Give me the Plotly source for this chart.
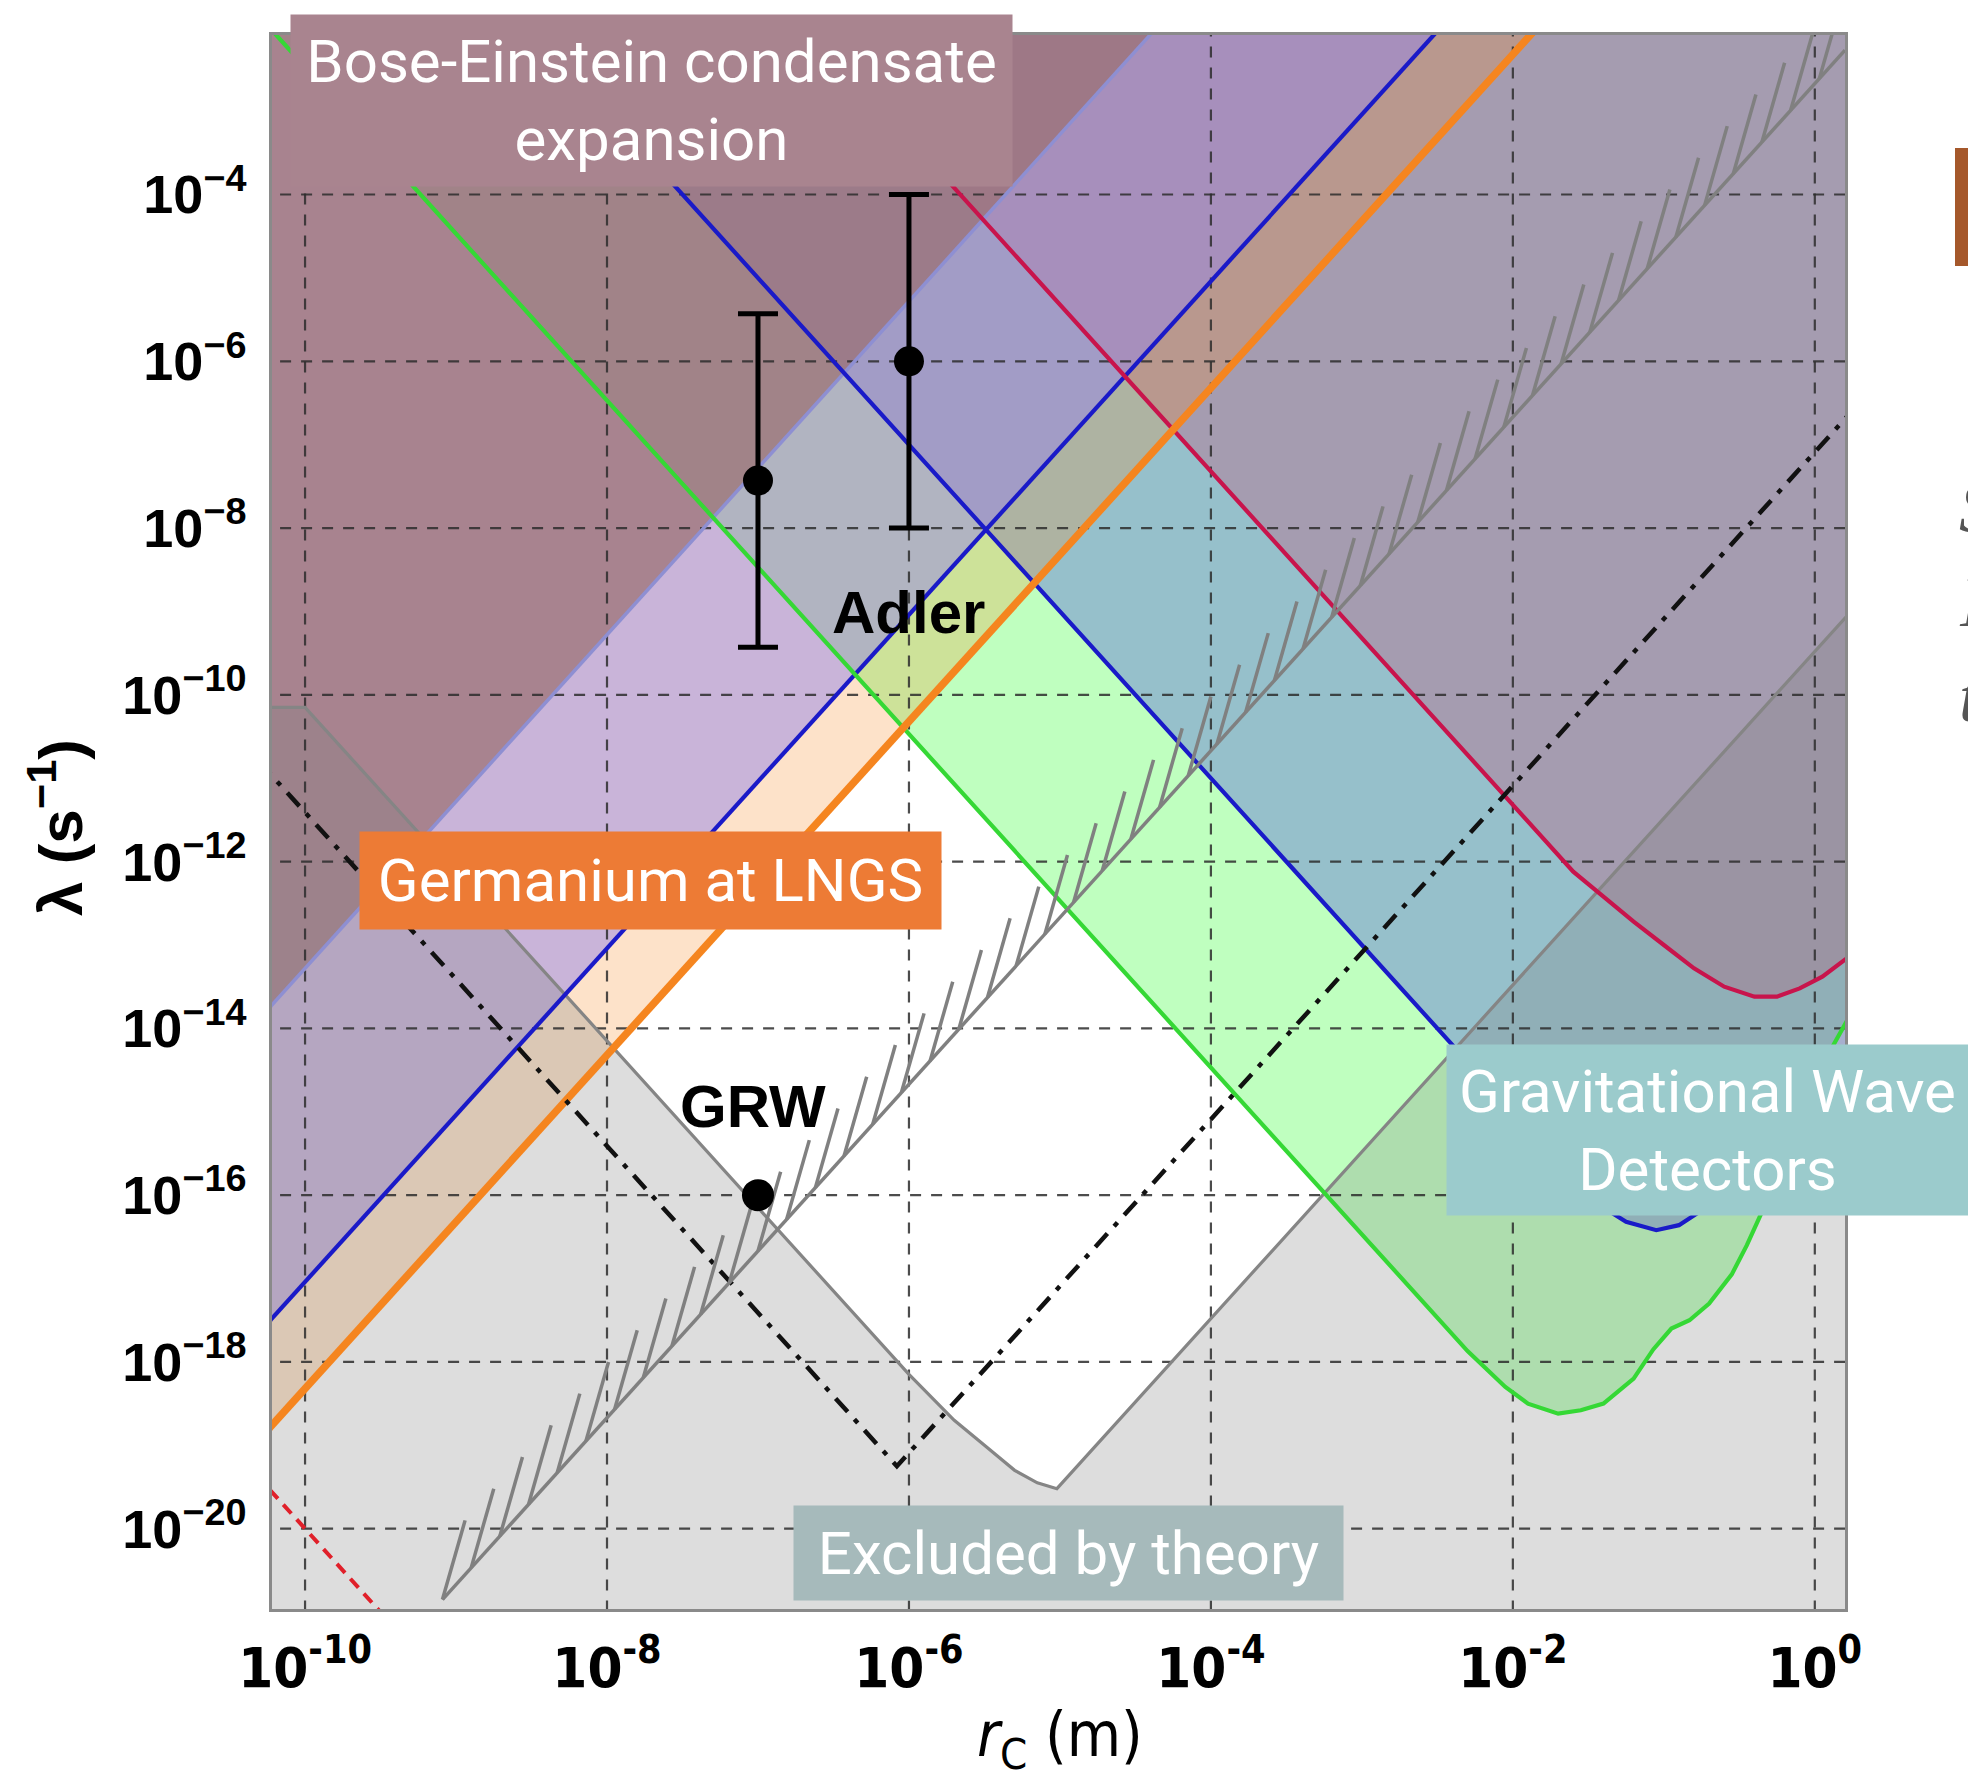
import numpy as np
import plotly.graph_objects as go

# ---------------- data (log10 exponents) ----------------
# x: log10(r_C / m), y: log10(lambda / s^-1)
GERM_LOG_RC = [-10.5, -1.5]
GERM_LOG_LAM = [-19.32, -1.32]

XRAY_LOG_RC = [-10.5, -2.0]
XRAY_LOG_LAM = [-18.04, -1.04]

BEC_LOG_RC = [-10.5, -4.0]
BEC_LOG_LAM = [-14.28, -1.28]

GW_GREEN_LOG_RC = [-10.5, -2.3, -2.05, -1.9, -1.7, -1.55, -1.4, -1.2, -1.07, -0.95, -0.83,
                   -0.7, -0.55, -0.45, -0.35, -0.2, 0.0, 0.2, 0.4]
GW_GREEN_LOG_LAM = [-1.47, -17.87, -18.3, -18.5, -18.62, -18.58, -18.5, -18.2, -17.85, -17.6, -17.5,
                    -17.3, -16.95, -16.6, -16.2, -15.5, -14.6, -13.95, -13.3]

GW_BLUE_LOG_RC = [-8.6, -2.1, -1.9, -1.6, -1.4, -1.25, -1.05, -0.9, -0.78, -0.65, -0.5, -0.3, 0.0, 0.4]
GW_BLUE_LOG_LAM = [-1.8, -14.8, -15.2, -15.85, -16.15, -16.32, -16.42, -16.36, -16.22, -15.95, -15.5,
                   -15.0, -14.5, -14.0]

RED_LOG_RC = [-7.0, -1.6, -1.4, -1.2, -1.0, -0.8, -0.6, -0.4, -0.25, -0.1, 0.05, 0.2, 0.4]
RED_LOG_LAM = [-1.32, -12.12, -12.42, -12.72, -13.0, -13.28, -13.5, -13.62, -13.62, -13.52, -13.38,
               -13.18, -12.9]

THEORY_LOG_RC = [-10.5, -10.0, -6.0, -5.7, -5.5, -5.3, -5.15, -5.02, 0.4]
THEORY_LOG_LAM = [-10.15, -10.15, -18.15, -18.7, -19.0, -19.3, -19.45, -19.52, -8.68]

DASHDOT_LOG_RC = [-10.5, -6.08, 0.4]
DASHDOT_LOG_LAM = [-10.41, -19.25, -6.29]

REDDASH_LOG_RC = [-10.5, -9.4]
REDDASH_LOG_LAM = [-19.0, -21.2]

HATCH_LOG_RC = [-9.09, 0.2]
HATCH_LOG_LAM = [-20.85, -2.27]

ADLER_LOG_RC = [-7.0, -6.0]
ADLER_LOG_LAM = [-7.43, -6.0]
ADLER_LOG_UP = [-5.43, -4.0]
ADLER_LOG_DOWN = [-9.43, -8.0]

GRW_LOG_RC = [-7.0]
GRW_LOG_LAM = [-16.0]

X_TICK_EXP = [-10, -8, -6, -4, -2, 0]
X_TICK_TEXT = ["10<sup>-10</sup>", "10<sup>-8</sup>", "10<sup>-6</sup>", "10<sup>-4</sup>",
               "10<sup>-2</sup>", "10<sup>0</sup>"]
Y_TICK_EXP = [-4, -6, -8, -10, -12, -14, -16, -18, -20]
Y_TICK_TEXT = ["10<sup>\u22124</sup>", "10<sup>\u22126</sup>", "10<sup>\u22128</sup>",
               "10<sup>\u221210</sup>", "10<sup>\u221212</sup>", "10<sup>\u221214</sup>",
               "10<sup>\u221216</sup>", "10<sup>\u221218</sup>", "10<sup>\u221220</sup>"]

# ---------------- helpers ----------------
TOP = -1.0
BOT = -22.0


def p10(a):
    return list(10.0 ** np.array(a, dtype=float))


def above(lx, ly):
    xs = list(lx) + [lx[-1], lx[0]]
    ys = list(ly) + [TOP, TOP]
    return p10(xs), p10(ys)


def below(lx, ly):
    xs = list(lx) + [lx[-1], lx[0]]
    ys = list(ly) + [BOT, BOT]
    return p10(xs), p10(ys)


fig = go.Figure()


def add_fill(xy, color):
    fig.add_trace(go.Scatter(x=xy[0], y=xy[1], mode="lines", fill="toself", fillcolor=color,
                             line=dict(width=0), hoverinfo="skip", showlegend=False))


def add_line(lx, ly, color, width, dash="solid"):
    fig.add_trace(go.Scatter(x=p10(lx), y=p10(ly), mode="lines",
                             line=dict(color=color, width=width, dash=dash),
                             hoverinfo="skip", showlegend=False))


# fills (layer order matters for colour mixing)
add_fill(above(GW_GREEN_LOG_RC, GW_GREEN_LOG_LAM), "rgba(120,255,120,0.47)")
add_fill(above(GW_BLUE_LOG_RC, GW_BLUE_LOG_LAM), "rgba(110,130,215,0.5)")
add_fill(above(RED_LOG_RC, RED_LOG_LAM), "rgba(180,120,150,0.5)")
add_fill(above(GERM_LOG_RC, GERM_LOG_LAM), "rgba(248,140,40,0.25)")
add_fill(above(XRAY_LOG_RC, XRAY_LOG_LAM), "rgba(149,133,233,0.5)")
add_fill(above(BEC_LOG_RC, BEC_LOG_LAM), "rgba(154,110,111,0.7)")
add_fill(below(THEORY_LOG_RC, THEORY_LOG_LAM), "rgba(128,128,128,0.27)")

# dashed grid on top of the fills
gx, gy = [], []
for e in X_TICK_EXP:
    gx += [10.0 ** e, 10.0 ** e, None]
    gy += [10.0 ** BOT, 10.0 ** TOP, None]
for e in Y_TICK_EXP:
    gx += [10.0 ** -11, 10.0 ** 1, None]
    gy += [10.0 ** e, 10.0 ** e, None]
fig.add_trace(go.Scatter(x=gx, y=gy, mode="lines",
                         line=dict(color="rgba(45,45,45,0.85)", width=2.2, dash="11px,10px"),
                         hoverinfo="skip", showlegend=False))

# boundary lines
add_line(THEORY_LOG_RC, THEORY_LOG_LAM, "#858585", 3.2)
add_line(BEC_LOG_RC, BEC_LOG_LAM, "#8e8fd2", 3.5)
add_line(XRAY_LOG_RC, XRAY_LOG_LAM, "#1a1ac8", 4.2)
add_line(GW_BLUE_LOG_RC, GW_BLUE_LOG_LAM, "#1a1ac8", 4.2)
add_line(GW_GREEN_LOG_RC, GW_GREEN_LOG_LAM, "#35d835", 4.2)
add_line(RED_LOG_RC, RED_LOG_LAM, "#c8144c", 4.2)
add_line(GERM_LOG_RC, GERM_LOG_LAM, "#f5851f", 7.5)
add_line(DASHDOT_LOG_RC, DASHDOT_LOG_LAM, "#111111", 4.5, "18px,10px,5px,10px")
add_line(REDDASH_LOG_RC, REDDASH_LOG_LAM, "#e0202a", 4, "12px,8px")

# hatched theory line
add_line(HATCH_LOG_RC, HATCH_LOG_LAM, "#808080", 3.5)
slope = (HATCH_LOG_LAM[1] - HATCH_LOG_LAM[0]) / (HATCH_LOG_RC[1] - HATCH_LOG_RC[0])
hx, hy = [], []
step, hdx, hdy = 0.19, 0.15, 0.95
xv = HATCH_LOG_RC[0]
while xv <= HATCH_LOG_RC[1]:
    yv = HATCH_LOG_LAM[0] + slope * (xv - HATCH_LOG_RC[0])
    hx += [10.0 ** xv, 10.0 ** (xv + hdx), None]
    hy += [10.0 ** yv, 10.0 ** (yv + hdy), None]
    xv += step
fig.add_trace(go.Scatter(x=hx, y=hy, mode="lines", line=dict(color="#808080", width=3.5),
                         hoverinfo="skip", showlegend=False))

# Adler points with error bars
ad_x = p10(ADLER_LOG_RC)
ad_y = p10(ADLER_LOG_LAM)
ad_up = [u - y for u, y in zip(p10(ADLER_LOG_UP), ad_y)]
ad_dn = [y - d for d, y in zip(p10(ADLER_LOG_DOWN), ad_y)]
fig.add_trace(go.Scatter(x=ad_x, y=ad_y, mode="markers",
                         marker=dict(color="black", size=30),
                         error_y=dict(type="data", symmetric=False, array=ad_up, arrayminus=ad_dn,
                                      color="black", thickness=5, width=20),
                         hoverinfo="skip", showlegend=False))
fig.add_trace(go.Scatter(x=p10(GRW_LOG_RC), y=p10(GRW_LOG_LAM), mode="markers",
                         marker=dict(color="black", size=32), hoverinfo="skip", showlegend=False))

# ---------------- layout ----------------
L, R, T, B = 272, 1845, 35, 1609
W, H = 1968, 1782


def px(xf):
    return (xf - L) / (R - L)


def py(yf):
    return (B - yf) / (B - T)


annotations = []
annotations.append(dict(x=-6.0, y=-9.01, xref="x", yref="y", text="<b>Adler</b>", showarrow=False,
                        font=dict(family="Liberation Sans, Arial", size=60, color="black")))
annotations.append(dict(x=-7.03, y=-14.94, xref="x", yref="y", text="<b>GRW</b>", showarrow=False,
                        font=dict(family="Liberation Sans, Arial", size=60, color="black")))


def box(text, cx, cy, w, h, color):
    annotations.append(dict(x=px(cx), y=py(cy), xref="paper", yref="paper", xanchor="center",
                            yanchor="middle", width=w, height=h, bgcolor=color, borderpad=0,
                            text=text, showarrow=False, align="center", valign="middle",
                            font=dict(family="Roboto, Noto Sans", size=60, color="white")))


box("Bose-Einstein condensate<br>expansion", 651.5, 100.5, 721, 171, "#a9848f")
box("Germanium at LNGS", 650.5, 880.5, 581, 97, "#ed7b35")
box("Gravitational Wave<br>Detectors", 1707.5, 1130, 521, 170, "#9bcbcc")
box("Excluded by theory", 1068.5, 1553, 549, 94, "#a6babb")

# axis titles
annotations.append(dict(x=px(1060), y=py(1738), xref="paper", yref="paper", xanchor="center",
                        yanchor="middle", showarrow=False, text="<i>r</i><sub>C</sub> (m)",
                        font=dict(family="DejaVu Sans Condensed, Liberation Sans, Arial",
                                  size=62, color="black")))
annotations.append(dict(x=px(56), y=py(828), xref="paper", yref="paper", xanchor="center",
                        yanchor="middle", showarrow=False, textangle=-90,
                        text="<b>\u03bb (s<sup>\u22121</sup>)</b>",
                        font=dict(family="Liberation Sans, Arial", size=62, color="black")))

# clipped fragments of neighbouring slide text at the right edge
for letter, yc in [("S", 508), ("I", 602), ("t", 697)]:
    annotations.append(dict(x=px(1957), y=py(yc), xref="paper", yref="paper", xanchor="left",
                            yanchor="middle", showarrow=False, text="<i>" + letter + "</i>",
                            font=dict(family="Liberation Serif, DejaVu Serif", size=72,
                                      color="#555555")))

shapes = [dict(type="rect", xref="paper", yref="paper", x0=px(1955), x1=px(1975),
               y0=py(266), y1=py(148), fillcolor="#a5582b", line=dict(width=0), layer="above")]

fig.update_layout(
    width=W, height=H, autosize=False,
    margin=dict(l=L, r=W - R, t=T, b=H - B, autoexpand=False),
    paper_bgcolor="white", plot_bgcolor="white",
    showlegend=False,
    annotations=annotations,
    shapes=shapes,
    xaxis=dict(type="log", range=[-10.219, 0.2], tickvals=p10(X_TICK_EXP), ticktext=X_TICK_TEXT,
               showgrid=False, zeroline=False, ticks="", ticklabelstandoff=8,
               showline=True, mirror=True, linecolor="#8a8a8a", linewidth=2.5,
               tickfont=dict(family="DejaVu Sans Condensed, Liberation Sans, Arial",
                             size=56, color="black", weight="bold")),
    yaxis=dict(type="log", range=[-20.963, -2.087], tickvals=p10(Y_TICK_EXP), ticktext=Y_TICK_TEXT,
               showgrid=False, zeroline=False, ticks="", ticklabelstandoff=12,
               showline=True, mirror=True, linecolor="#8a8a8a", linewidth=2.5,
               tickfont=dict(family="Liberation Sans, Arial", size=54, color="black",
                             weight="bold")),
)

fig.write_html("out.html", config={"displayModeBar": False},
               post_script="document.body.style.margin='0';")
